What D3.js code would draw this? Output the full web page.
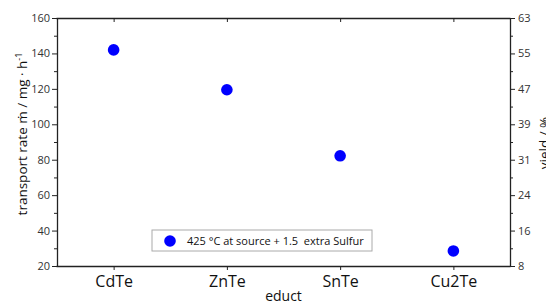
<!DOCTYPE html>
<html>
<head>
<meta charset="utf-8">
<script src="https://cdn.jsdelivr.net/npm/d3@7"></script>
<style>
  body { margin: 0; background: #fff; }
  text { font-family: "Open Sans", "Noto Sans", sans-serif; }
</style>
</head>
<body>
<script>
// data
var educts = ['CdTe', 'ZnTe', 'SnTe', 'Cu2Te'];
var rates = [142, 119.5, 82.2, 28.5];
var leftTicks = [20, 40, 60, 80, 100, 120, 140, 160];
var rightTickLabels = ['8', '16', '24', '31', '39', '47', '55', '63'];
var legendLabel = '425 °C at source + 1.5  extra Sulfur';

var svgWidth = 546, svgHeight = 305;
var pLeft = 57, pRight = 510, pTop = 18, pBottom = 266;

var svg = d3.select('body').append('svg')
    .attr('width', svgWidth)
    .attr('height', svgHeight);

var x = d3.scalePoint().domain(educts).range([pLeft, pRight]).padding(0.5);
var y = d3.scaleLinear().domain([20, 160]).range([pBottom, pTop]);

var axisColor = '#222';
var tickText = '#333';

// left axis with minor ticks
var gl = svg.append('g').attr('transform', 'translate(' + pLeft + ',0)');
gl.call(d3.axisLeft(y).tickValues(d3.range(30, 160, 20)).tickSize(3).tickFormat(''));
gl.select('.domain').remove();
gl.selectAll('line').attr('stroke', axisColor);
var gl2 = svg.append('g').attr('transform', 'translate(' + pLeft + ',0)');
gl2.call(d3.axisLeft(y).tickValues(leftTicks).tickSize(5).tickPadding(2).tickSizeOuter(0));
gl2.select('.domain').attr('stroke', axisColor).attr('stroke-width', 1.3);
gl2.selectAll('line').attr('stroke', axisColor);
gl2.selectAll('text').attr('font-size', 11).attr('fill', tickText);

// right axis, same positions, yield labels
var gr = svg.append('g').attr('transform', 'translate(' + pRight + ',0)');
gr.call(d3.axisRight(y).tickValues(d3.range(30, 160, 20)).tickSize(3).tickFormat(''));
gr.select('.domain').remove();
gr.selectAll('line').attr('stroke', axisColor);
var gr2 = svg.append('g').attr('transform', 'translate(' + pRight + ',0)');
gr2.call(d3.axisRight(y).tickValues(leftTicks).tickSize(5).tickPadding(3).tickSizeOuter(0)
    .tickFormat(function (d, i) { return rightTickLabels[i]; }));
gr2.select('.domain').attr('stroke', axisColor).attr('stroke-width', 1.3);
gr2.selectAll('line').attr('stroke', axisColor);
gr2.selectAll('text').attr('font-size', 11).attr('fill', tickText);

// bottom axis
var gb = svg.append('g').attr('transform', 'translate(0,' + pBottom + ')');
gb.call(d3.axisBottom(x).tickSize(4).tickPadding(6).tickSizeOuter(0));
gb.select('.domain').attr('d', 'M' + (pLeft - 0.5) + ',0.5H' + (pRight + 0.5))
    .attr('stroke', axisColor).attr('stroke-width', 1.3);
gb.selectAll('line').attr('stroke', axisColor);
gb.selectAll('text').attr('font-size', 16).attr('fill', '#111');

// top border with inward ticks
var gt = svg.append('g').attr('transform', 'translate(0,' + pTop + ')');
gt.call(d3.axisTop(x).tickSize(-4).tickSizeOuter(0).tickFormat(''));
gt.select('.domain').attr('d', 'M' + (pLeft - 0.5) + ',0.5H' + (pRight + 0.5))
    .attr('stroke', axisColor).attr('stroke-width', 1.3);
gt.selectAll('line').attr('stroke', axisColor);

// points
svg.append('g').selectAll('circle')
    .data(educts)
    .enter()
    .append('circle')
        .attr('cx', function (d) { return x(d); })
        .attr('cy', function (d, i) { return y(rates[i]); })
        .attr('r', 5.8)
        .attr('fill', '#0000ff');

// axis titles
var lt = svg.append('text')
    .attr('transform', 'translate(27,134) rotate(-90)')
    .attr('text-anchor', 'middle')
    .attr('font-size', 13.5)
    .attr('fill', '#111');
lt.append('tspan').text('transport rate \u1E41 / mg \u00B7 h');
lt.append('tspan').attr('dy', -5).attr('font-size', 9).text('-1');

// right title is clipped by the page edge in the original too
svg.append('text')
    .attr('transform', 'translate(549,143) rotate(-90)')
    .attr('text-anchor', 'middle')
    .attr('font-size', 13.5)
    .attr('fill', '#111')
    .text('yield / %');

svg.append('text')
    .attr('x', (pLeft + pRight) / 2)
    .attr('y', 301)
    .attr('text-anchor', 'middle')
    .attr('font-size', 14)
    .attr('fill', '#111')
    .text('educt');

// legend
var lg = svg.append('g').attr('transform', 'translate(152,230)');
lg.append('rect')
    .attr('width', 220)
    .attr('height', 21)
    .attr('fill', '#fff')
    .attr('stroke', '#aaa');
lg.append('circle').attr('cx', 18).attr('cy', 11).attr('r', 5.8).attr('fill', '#0000ff');
lg.append('text')
    .attr('x', 35)
    .attr('y', 15)
    .attr('font-size', 11)
    .attr('fill', '#111')
    .style('white-space', 'pre')
    .text(legendLabel);
</script>
</body>
</html>
